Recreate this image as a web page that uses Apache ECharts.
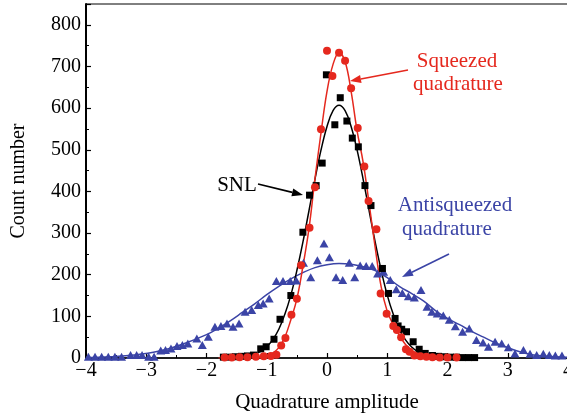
<!DOCTYPE html>
<html><head><meta charset="utf-8">
<script src="https://cdn.jsdelivr.net/npm/echarts/dist/echarts.min.js"></script>
<style>html,body{margin:0;padding:0;background:#fff}#c{width:567px;height:419px}</style>
</head><body><div id="c"></div>
<script>
// ---- data ----
const sqzX = [-1.70,-1.58,-1.45,-1.32,-1.18,-1.05,-0.93,-0.84,-0.76,-0.69,-0.59,-0.50,-0.43,-0.29,-0.20,-0.10,0.00,0.09,0.20,0.30,0.40,0.51,0.62,0.69,0.82,0.89,0.99,1.10,1.16,1.23,1.31,1.37,1.45,1.55,1.65,1.75,1.87,2.00,2.15];
const sqzY = [1,1,2,2,3,4,5,8,30,48,104,142,223,313,410,549,738,677,733,714,648,552,460,377,309,155,106,77,67,50,21,15,6,4,3,2,1,1,1];

const snlX = [-1.72,-1.62,-1.52,-1.42,-1.32,-1.22,-1.10,-1.01,-0.88,-0.78,-0.60,-0.40,-0.29,-0.18,-0.08,-0.01,0.13,0.22,0.33,0.42,0.52,0.63,0.73,0.92,1.02,1.13,1.18,1.24,1.32,1.43,1.53,1.63,1.75,1.85,1.95,2.05,2.15,2.25,2.35,2.45];
const snlY = [2,2,3,4,5,7,22,27,45,93,150,302,391,414,468,680,560,625,569,528,507,414,366,215,155,95,77,69,63,39,21,11,6,4,3,2,2,1,1,1];

const antiX = [-3.96,-3.85,-3.74,-3.63,-3.52,-3.41,-3.26,-3.16,-3.07,-2.96,-2.87,-2.76,-2.68,-2.59,-2.49,-2.40,-2.31,-2.16,-2.07,-1.97,-1.86,-1.76,-1.66,-1.56,-1.46,-1.36,-1.25,-1.14,-1.06,-0.96,-0.84,-0.73,-0.61,-0.51,-0.39,-0.27,-0.16,-0.05,0.04,0.15,0.26,0.37,0.46,0.55,0.65,0.75,0.84,0.94,1.05,1.15,1.25,1.35,1.45,1.56,1.66,1.74,1.83,1.93,2.03,2.13,2.25,2.36,2.48,2.59,2.68,2.79,2.90,3.01,3.12,3.26,3.37,3.48,3.59,3.69,3.79,3.90];
const antiY = [3,3,3,3,3,3,7,7,7,3,3,18,19,23,29,31,35,47,31,51,75,77,83,75,83,111,115,127,131,143,185,185,185,186,229,194,235,275,242,194,187,229,194,222,221,221,203,207,187,165,156,148,145,163,123,111,107,102,92,76,63,71,43,37,27,39,35,26,11,19,10,7,10,7,6,6];

// fitted curves
const fitSqzX = [-1.8,-1.5,-1.2,-1.0,-0.9,-0.8,-0.7,-0.6,-0.5,-0.4,-0.3,-0.2,-0.1,0.0,0.1,0.2,0.3,0.4,0.5,0.6,0.7,0.8,0.9,1.0,1.1,1.2,1.3,1.4,1.5,1.6,1.8,2.0,2.2];
const fitSqzY = [0,1,2,5,12,25,50,92,142,220,310,430,540,640,705,733,712,640,545,470,370,265,170,112,80,55,33,19,11,6,3,2,1];

const fitSnlX = [-1.7,-1.4,-1.3,-1.2,-1.1,-1.0,-0.9,-0.8,-0.7,-0.6,-0.5,-0.4,-0.3,-0.2,-0.1,0.0,0.1,0.2,0.3,0.4,0.5,0.6,0.7,0.8,0.9,1.0,1.1,1.2,1.3,1.4,1.5,1.6,1.7,1.8,2.0,2.2,2.5];
const fitSnlY = [0,2,5,9,16,27,44,69,105,151,210,278,353,429,499,556,594,607,594,556,499,429,353,278,210,151,105,69,44,27,16,9,5,2,1,0.5,0];

const fitAntiX = [-4.0,-3.6,-3.2,-2.8,-2.4,-2.0,-1.8,-1.6,-1.4,-1.2,-1.0,-0.8,-0.6,-0.4,-0.2,0.0,0.2,0.4,0.6,0.8,1.0,1.2,1.4,1.6,1.8,2.0,2.2,2.4,2.6,2.8,3.0,3.2,3.4,3.6,3.8,4.0];
const fitAntiY = [1,3,7,16,33,56,72,90,110,130,152,172,190,205,217,224,227,225,219,210,193,172,155,137,114,95,80,64,50,36,25,15,8,5,3,2];

const xTicks = [-4,-3,-2,-1,0,1,2,3,4];
const yTicks = [0,100,200,300,400,500,600,700,800];

// ---- styling ----
const RED = '#e5281e', BLUE = '#3b44a6', BLACK = '#000';
const FONT = '"Liberation Serif", "Times New Roman", serif';
const zip = (xs, ys) => xs.map((x, i) => [x, ys[i]]);

function arrow(x1, y1, x2, y2, color) {
  const dx = x2 - x1, dy = y2 - y1, L = Math.hypot(dx, dy), ux = dx / L, uy = dy / L;
  const hl = 11, hw = 4, bx = x2 - ux * hl, by = y2 - uy * hl;
  return [
    {type: 'line', shape: {x1: x1, y1: y1, x2: bx, y2: by}, style: {stroke: color, lineWidth: 1.6}, z: 100},
    {type: 'polygon', shape: {points: [[x2, y2], [bx - uy * hw, by + ux * hw], [bx + uy * hw, by - ux * hw]]}, style: {fill: color}, z: 100}
  ];
}
function label(text, x, y, color) {
  return {type: 'text', x: x, y: y, z: 100,
    style: {text: text, fill: color, font: '21px ' + FONT, textAlign: 'center', textVerticalAlign: 'top'}};
}

const chart = echarts.init(document.getElementById('c'), null, {renderer: 'canvas'});
chart.setOption({
  animation: false,
  backgroundColor: '#fff',
  grid: {left: 86, top: 4, width: 482, height: 354, show: true, borderColor: '#000', borderWidth: 1,
    backgroundColor: 'transparent', outerBoundsMode: 'none', containLabel: false},
  xAxis: {
    type: 'value', min: xTicks[0], max: xTicks[xTicks.length - 1], interval: 1,
    name: 'Quadrature amplitude', nameLocation: 'middle', nameGap: 34,
    nameTextStyle: {fontFamily: FONT, fontSize: 21, color: '#000'},
    axisLine: {onZero: false, lineStyle: {color: '#000', width: 1.5}},
    axisTick: {inside: true, length: 5, lineStyle: {color: '#000', width: 1.2}},
    minorTick: {show: true, splitNumber: 2, length: 3, lineStyle: {color: '#000'}},
    splitLine: {show: false},
    axisLabel: {fontFamily: FONT, fontSize: 20, color: '#000', margin: 3, hideOverlap: false,
      formatter: v => (xTicks.includes(v) ? String(v).replace('-', '\u2212') : '')}
  },
  yAxis: {
    type: 'value', min: 0, max: 850, interval: 100,
    name: 'Count number', nameLocation: 'middle', nameGap: 57,
    nameTextStyle: {fontFamily: FONT, fontSize: 20, color: '#000'},
    axisLine: {onZero: false, lineStyle: {color: '#000', width: 2}},
    axisTick: {inside: true, length: 5, lineStyle: {color: '#000', width: 1.2}},
    minorTick: {show: true, splitNumber: 2, length: 3, lineStyle: {color: '#000'}},
    splitLine: {show: false},
    axisLabel: {fontFamily: FONT, fontSize: 20, color: '#000', margin: 5,
      formatter: v => (yTicks.includes(v) ? String(v) : '')}
  },
  series: [
    {type: 'line', data: zip(fitAntiX, fitAntiY), smooth: 0.4, showSymbol: false, lineStyle: {color: BLUE, width: 1.5}, z: 2},
    {type: 'line', data: zip(fitSnlX, fitSnlY), smooth: 0.4, showSymbol: false, lineStyle: {color: BLACK, width: 1.5}, z: 2},
    {type: 'line', data: zip(fitSqzX, fitSqzY), smooth: 0.4, showSymbol: false, lineStyle: {color: RED, width: 1.5}, z: 2},
    {type: 'scatter', data: zip(antiX, antiY), symbol: 'triangle', symbolSize: [9, 8], itemStyle: {color: BLUE, opacity: 1}, z: 3},
    {type: 'scatter', data: zip(snlX, snlY), symbol: 'rect', symbolSize: 7, itemStyle: {color: BLACK, opacity: 1}, z: 4},
    {type: 'scatter', data: zip(sqzX, sqzY), symbol: 'circle', symbolSize: 8, itemStyle: {color: RED, opacity: 1}, z: 5}
  ],
  graphic: [
    label('Squeezed', 457, 51, RED),
    label('quadrature', 458, 74, RED),
    ...arrow(408, 70, 350, 81, RED),
    label('SNL', 237, 175, BLACK),
    ...arrow(258, 184, 303, 195, BLACK),
    label('Antisqueezed', 455, 195, BLUE),
    label('quadrature', 447, 219, BLUE),
    ...arrow(449, 254, 402, 277, BLUE)
  ]
});
</script></body></html>
